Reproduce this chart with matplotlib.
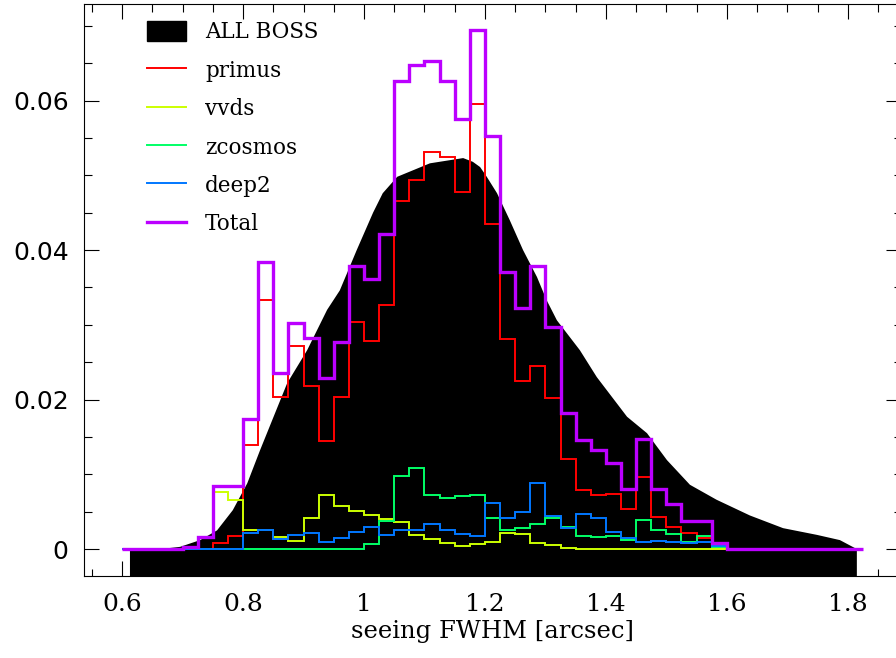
import numpy as np
import matplotlib
matplotlib.use("Agg")
import matplotlib.pyplot as plt
from matplotlib.ticker import MultipleLocator
from matplotlib.patches import Patch
from matplotlib.lines import Line2D

# ALL BOSS seeing distribution (outline of the black area)
boss_x = [0.613, 0.663, 0.696, 0.729, 0.757, 0.783, 0.807, 0.828, 0.873, 0.906,
          0.939, 0.960, 0.988, 1.015, 1.031, 1.055, 1.109, 1.164, 1.180, 1.192,
          1.203, 1.220, 1.241, 1.263, 1.286, 1.302, 1.319, 1.357, 1.385, 1.435,
          1.468, 1.501, 1.539, 1.583, 1.638, 1.693, 1.749, 1.787, 1.808, 1.815]
boss_y = [0.0, 0.0, 0.0003, 0.0012, 0.0025, 0.0052, 0.0088, 0.0132, 0.0222, 0.0266,
          0.0320, 0.0346, 0.0400, 0.0450, 0.0476, 0.0498, 0.0516, 0.0523, 0.0518, 0.0511,
          0.0498, 0.0476, 0.0440, 0.0400, 0.0364, 0.0333, 0.0306, 0.0266, 0.0230, 0.0177,
          0.0155, 0.0119, 0.0086, 0.0066, 0.0045, 0.0028, 0.0019, 0.0012, 0.0003, 0.0]

# histogram bins: 0.6 .. 1.825 in steps of 0.025
bin_start = 0.6
bin_width = 0.025
n_bins = 49

primus = [0, 0, 0, 0, 0, 0, 0.0008, 0.0017, 0.0139, 0.0333,
          0.0204, 0.0272, 0.0218, 0.0145, 0.0204, 0.0304, 0.0279, 0.0326, 0.0465, 0.0494,
          0.0531, 0.0524, 0.0477, 0.0595, 0.0435, 0.0281, 0.0225, 0.0245, 0.0202, 0.0121,
          0.0079, 0.0072, 0.0074, 0.0053, 0.0097, 0.0043, 0.0030, 0.0021, 0.0015, 0.0004,
          0, 0, 0, 0, 0, 0, 0, 0, 0]
vvds = [0, 0, 0, 0, 0.0003, 0.0016, 0.0077, 0.0065, 0.0025, 0.0025,
        0.0016, 0.0011, 0.0041, 0.0073, 0.0057, 0.0051, 0.0045, 0.0040, 0.0036, 0.0019,
        0.0014, 0.0008, 0.0004, 0.0007, 0.0009, 0.0022, 0.0020, 0.0008, 0.0005, 0.0001,
        0, 0, 0, 0, 0, 0, 0, 0, 0, 0,
        0, 0, 0, 0, 0, 0, 0, 0, 0]
zcosmos = [0, 0, 0, 0, 0, 0, 0, 0, 0, 0,
           0, 0, 0, 0, 0, 0, 0.0007, 0.0037, 0.0098, 0.0108,
           0.0073, 0.0069, 0.0071, 0.0073, 0.0042, 0.0025, 0.0028, 0.0034, 0.0042, 0.0029,
           0.0017, 0.0016, 0.0017, 0.0012, 0.0039, 0.0025, 0.0020, 0.0010, 0.0017, 0.0003,
           0, 0, 0, 0, 0, 0, 0, 0, 0]
deep2 = [0, 0, 0, 0, 0, 0, 0, 0, 0.0021, 0.0026,
         0.0014, 0.0019, 0.0021, 0.0010, 0.0015, 0.0023, 0.0030, 0.0019, 0.0025, 0.0025,
         0.0034, 0.0025, 0.0020, 0.0017, 0.0062, 0.0041, 0.0050, 0.0089, 0.0044, 0.0028,
         0.0047, 0.0042, 0.0023, 0.0015, 0.0010, 0.0011, 0.0010, 0.0008, 0.0010, 0.0004,
         0, 0, 0, 0, 0, 0, 0, 0, 0]
total = [0, 0, 0, 0, 0.0003, 0.0016, 0.0084, 0.0084, 0.0174, 0.0384,
         0.0235, 0.0303, 0.0283, 0.0229, 0.0277, 0.0378, 0.0361, 0.0421, 0.0626, 0.0647,
         0.0653, 0.0626, 0.0575, 0.0694, 0.0552, 0.0371, 0.0323, 0.0379, 0.0297, 0.0182,
         0.0146, 0.0132, 0.0115, 0.0080, 0.0147, 0.0081, 0.0060, 0.0037, 0.0037, 0.0008,
         0, 0, 0, 0, 0, 0, 0, 0, 0]

labels = ["primus", "vvds", "zcosmos", "deep2", "Total"]
colors = ["#ff0000", "#ccff00", "#00ff66", "#0077ff", "#bb00ff"]

x_ticks = [0.6, 0.8, 1.0, 1.2, 1.4, 1.6, 1.8]
x_tick_labels = ["0.6", "0.8", "1", "1.2", "1.4", "1.6", "1.8"]
y_ticks = [0, 0.02, 0.04, 0.06]
y_tick_labels = ["0", "0.02", "0.04", "0.06"]

serif = "DejaVu Serif"
sans = "DejaVu Sans"

fig = plt.figure(figsize=(8.96, 6.58), dpi=100)
ax = fig.add_axes([84 / 896, 1 - 576 / 658, (901 - 84) / 896, (576 - 3.7) / 658])

ax.fill_between(boss_x, boss_y, -1, color="black", linewidth=0, zorder=1)

edges = bin_start + bin_width * np.arange(n_bins + 1)
series = [primus, vvds, zcosmos, deep2, total]
for vals, c, lab in zip(series, colors, labels):
    lw = 2.4 if lab == "Total" else 1.4
    ax.stairs(vals, edges, baseline=None, color=c, linewidth=lw, zorder=3)

ax.set_xlim(0.537, 1.888)
ax.set_ylim(-0.0036, 0.07295)

ax.set_xticks(x_ticks, labels=x_tick_labels)
ax.set_yticks(y_ticks, labels=y_tick_labels)
ax.xaxis.set_minor_locator(MultipleLocator(0.05))
ax.yaxis.set_minor_locator(MultipleLocator(0.005))
ax.tick_params(which="both", direction="in", top=True, right=True, width=0.8)
ax.tick_params(which="major", length=10.8)
ax.tick_params(which="minor", length=5.4)
ax.tick_params(axis="x", which="major", pad=12, labelsize=18)
ax.tick_params(axis="y", which="major", pad=11, labelsize=18)
for t in ax.get_xticklabels():
    t.set_fontfamily(serif)
for t in ax.get_yticklabels():
    t.set_fontfamily(sans)
for s in ax.spines.values():
    s.set_linewidth(0.8)

ax.set_xlabel("seeing FWHM [arcsec]", fontsize=17.5, fontfamily=serif, labelpad=3)

handles = [Patch(facecolor="black", edgecolor="black", label="ALL BOSS")]
for c, lab in zip(colors, labels):
    lw = 2.4 if lab == "Total" else 1.4
    handles.append(Line2D([], [], color=c, linewidth=lw, label=lab))
ax.legend(handles=handles, loc="upper left", bbox_to_anchor=(0.077, 0.969),
          frameon=False, borderpad=0, borderaxespad=0, handlelength=1.83,
          handleheight=1.0, handletextpad=0.88, labelspacing=0.76,
          prop={"family": serif, "size": 15.5})

fig.savefig("out.png", dpi=100)
